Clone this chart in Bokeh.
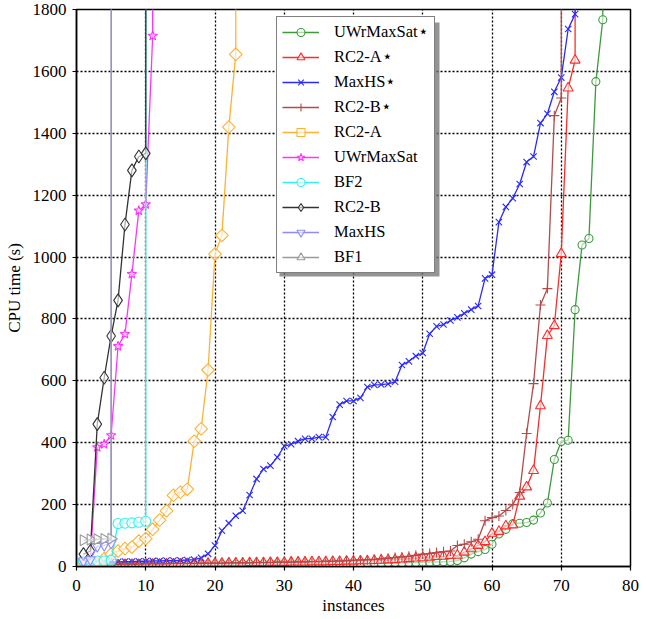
import math
from bokeh.plotting import figure
from bokeh.models import Range1d, FixedTicker, Legend, LegendItem, BoxAnnotation
from bokeh.embed import file_html
from bokeh.resources import INLINE

# ---------------- data (CPU time in seconds, sorted per solver) ----------------
# the last value of each series is a "not solved within the limit" value that
# lies far above the plotted range (the line leaves the chart vertically)
BEYOND = 100000

uwrmaxsat_star = [2, 2, 3, 3, 3, 3, 4, 4, 4, 4,
                  4, 5, 5, 5, 5, 5, 6, 6, 6, 6,
                  6, 6, 7, 7, 7, 7, 7, 8, 8, 8,
                  8, 8, 9, 9, 9, 9, 10, 10, 10, 10,
                  10, 11, 11, 11, 12, 12, 12, 13, 13, 14,
                  14, 15, 15, 16, 19, 28, 40, 48, 55, 72,
                  105, 120, 138, 140, 142, 150, 173, 205, 346, 404,
                  408, 830, 1039, 1060, 1567, 1767, BEYOND]

rc2a_star = [3, 4, 4, 5, 5, 5, 6, 6, 6, 7,
             7, 7, 8, 8, 8, 9, 9, 9, 10, 10,
             10, 11, 11, 11, 12, 12, 12, 13, 13, 13,
             14, 14, 14, 15, 15, 15, 16, 16, 17, 17,
             18, 18, 19, 20, 21, 22, 24, 25, 27, 28,
             30, 32, 33, 35, 36, 46, 57, 68, 80, 107,
             113, 131, 134, 227, 257, 310, 519, 746, 778, 1011,
             1546, 1636, BEYOND]

maxhs_star = [12, 13, 14, 14, 15, 15, 16, 16, 17, 17,
              18, 18, 19, 19, 20, 21, 22, 28, 41, 68,
              116, 140, 164, 180, 231, 283, 315, 326, 353, 389,
              395, 405, 413, 413, 418, 418, 483, 523, 535, 535,
              545, 580, 587, 588, 590, 597, 651, 663, 680, 690,
              752, 776, 782, 795, 805, 818, 830, 842, 931, 943,
              1113, 1162, 1190, 1236, 1307, 1325, 1433, 1463, 1534, 1580,
              1737, 1785, BEYOND]

rc2b_star = [5, 6, 6, 7, 7, 7, 8, 8, 8, 9,
             9, 9, 9, 10, 10, 10, 10, 11, 11, 11,
             11, 12, 12, 12, 12, 13, 13, 13, 14, 14,
             14, 15, 15, 16, 16, 17, 17, 18, 19, 20,
             21, 22, 23, 25, 27, 29, 31, 33, 36, 40,
             42, 45, 48, 50, 68, 72, 80, 88, 148, 158,
             163, 181, 200, 239, 430, 591, 845, 898, 1457, 1514,
             BEYOND]

rc2a = [4, 6, 10, 25, 40, 50, 58, 63, 82, 90,
        120, 150, 180, 230, 240, 250, 405, 445, 635, 1010,
        1070, 1420, 1655, BEYOND]

uwrmaxsat = [10, 20, 385, 395, 424, 712, 751, 945, 1150, 1170, 1715, BEYOND]

bf2 = [18, 18, 18, 18, 20, 139, 140, 141, 143, 146, BEYOND]

rc2b = [40, 50, 460, 610, 745, 860, 1105, 1280, 1325, 1335, BEYOND]

maxhs = [18, 22, 65, 68, 75, BEYOND]

bf1 = [85, 87, 88, 89, 90, BEYOND]

names = ["UWrMaxSat\u22c6", "RC2-A\u22c6", "MaxHS\u22c6", "RC2-B\u22c6", "RC2-A",
         "UWrMaxSat", "BF2", "RC2-B", "MaxHS", "BF1"]
series = [uwrmaxsat_star, rc2a_star, maxhs_star, rc2b_star, rc2a,
          uwrmaxsat, bf2, rc2b, maxhs, bf1]

x_ticks = [0, 10, 20, 30, 40, 50, 60, 70, 80]
y_ticks = [0, 200, 400, 600, 800, 1000, 1200, 1400, 1600, 1800]

# ---------------- styles ----------------
styles = [
    dict(color="#3c9a3c", marker="circle", size=8, angle=0.0),
    dict(color="#ff2a2a", marker="triangle", size=10, angle=0.0),
    dict(color="#2a2aff", marker="x", size=9, angle=0.0),
    dict(color="#b54a4a", marker="cross", size=10, angle=0.0),
    dict(color="#ffb133", marker="square", size=9, angle=math.pi / 4),
    dict(color="#ff33ff", marker="star", size=10, angle=0.0),
    dict(color="#33f0f0", marker="circle", size=10, angle=0.0),
    dict(color="#333333", marker="diamond", size=13, angle=0.0),
    dict(color="#8c8cff", marker="inverted_triangle", size=10, angle=0.0),
    dict(color="#9a9a9a", marker="triangle", size=11, angle=-math.pi / 2),
]

FONT = "Liberation Serif"

p = figure(frame_width=554, frame_height=557,
           min_border_left=76, min_border_right=12,
           min_border_top=9, min_border_bottom=50,
           x_range=Range1d(0, 80), y_range=Range1d(0, 1800),
           output_backend="svg", toolbar_location=None)

p.background_fill_color = "white"
p.border_fill_color = "white"
p.outline_line_color = "black"
p.outline_line_width = 1.5

items = []
for name, ys, st in zip(names, series, styles):
    xs = list(range(1, len(ys) + 1))
    lr = p.line(xs, ys, line_color=st["color"], line_width=1.3)
    sr = p.scatter(xs, ys, marker=st["marker"], size=st["size"], angle=st["angle"],
                   line_color=st["color"], line_width=1.1,
                   fill_color="white", fill_alpha=0.6)
    items.append(LegendItem(label=name, renderers=[lr, sr]))

# axes
for ax in (p.xaxis[0], p.yaxis[0]):
    ax.axis_line_width = 1.5
    ax.axis_line_color = "black"
    ax.major_tick_line_color = "black"
    ax.major_tick_line_width = 1.2
    ax.major_tick_out = 4
    ax.major_tick_in = 0
    ax.minor_tick_line_color = None
    ax.major_label_text_font = FONT
    ax.major_label_text_font_size = "17px"
    ax.major_label_text_color = "black"
    ax.axis_label_text_font = FONT
    ax.axis_label_text_font_size = "17px"
    ax.axis_label_text_font_style = "normal"
    ax.axis_label_text_color = "black"

p.xaxis.ticker = FixedTicker(ticks=x_ticks)
p.yaxis.ticker = FixedTicker(ticks=y_ticks)
p.xaxis.axis_label = "instances"
p.yaxis.axis_label = "CPU time (s)"
p.xaxis.major_label_standoff = 9
p.xaxis.axis_label_standoff = 2
p.yaxis.major_label_standoff = 6
p.yaxis.axis_label_standoff = 6

for g in (p.xgrid[0], p.ygrid[0]):
    g.grid_line_color = "black"
    g.grid_line_dash = "2 2"
    g.grid_line_width = 1.3

# legend position (screen px from the frame's bottom-left) and box size
LEG_X, LEG_Y = 200, 293
LEG_W, LEG_H = 160, 254

# drop shadow of the legend box
shadow = BoxAnnotation(left=LEG_X + 3, right=LEG_X + LEG_W + 3,
                       bottom=LEG_Y - 3, top=LEG_Y + LEG_H - 3,
                       left_units="screen", right_units="screen",
                       top_units="screen", bottom_units="screen",
                       fill_color="#707070", fill_alpha=0.75,
                       line_color=None)
p.add_layout(shadow)

legend = Legend(items=items, location=(LEG_X, LEG_Y))
legend.label_text_font = FONT
legend.label_text_font_size = "16.5px"
legend.glyph_width = 37
legend.glyph_height = 20
legend.label_height = 20
legend.spacing = 5
legend.padding = 5
legend.margin = 0
legend.label_standoff = 15
legend.border_line_width = 1.5
legend.label_text_color = "black"
legend.border_line_color = "black"
legend.background_fill_color = "white"
legend.background_fill_alpha = 1.0
p.add_layout(legend, "center")

open("out.html", "w").write(file_html(p, INLINE))
